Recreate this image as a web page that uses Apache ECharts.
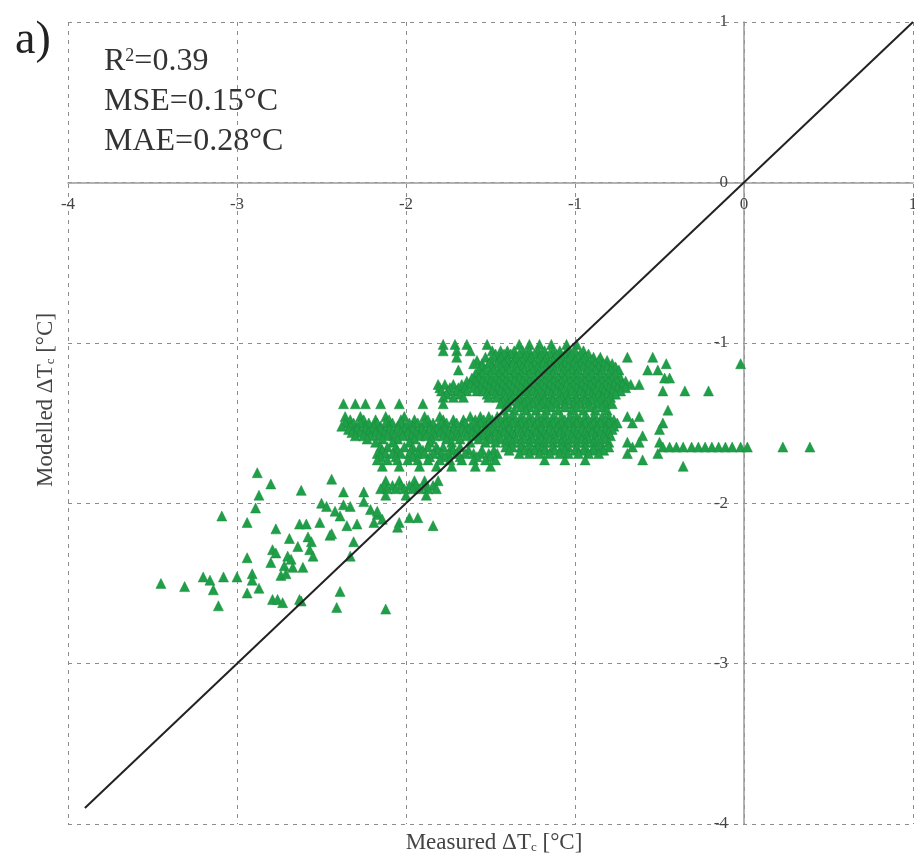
<!DOCTYPE html>
<html>
<head>
<meta charset="utf-8">
<script src="https://cdn.jsdelivr.net/npm/echarts@6/dist/echarts.min.js"></script>
<style>
  html, body { margin: 0; padding: 0; background: #fff; }
  #chart { width: 915px; height: 861px; }
</style>
</head>
<body>
<div id="chart"></div>
<script>
// axis ticks
const xTicks = [-4, -3, -2, -1, 0, 1];
const yTicks = [-4, -3, -2, -1, 0, 1];

// 1:1 reference line
const diagX = [-3.9, 1];
const diagY = [-3.9, 1];

// dense clusters, read row by row (modelled value of the row, measured values along it)
const rowY = [-1.01, -1.05, -1.07, -1.09, -1.11, -1.13, -1.15, -1.17, -1.195, -1.22, -1.24, -1.26, -1.28,
              -1.30, -1.32, -1.34, -1.36, -1.38, -1.40, -1.42,
              -1.46, -1.48, -1.50, -1.52, -1.54, -1.56, -1.58, -1.60, -1.62, -1.65, -1.67, -1.69, -1.71,
              -1.73, -1.77, -1.86, -1.89, -1.91, -1.95];
const rowX = [
  [-1.78, -1.71, -1.64, -1.52, -1.33, -1.27, -1.21, -1.14, -1.05, -0.99],
  [-1.78, -1.70, -1.62, -1.49, -1.44, -1.40, -1.36, -1.31, -1.27, -1.22, -1.18, -1.13, -1.09, -1.04, -1.00, -0.95],
  [-1.47, -1.42, -1.38, -1.33, -1.29, -1.24, -1.20, -1.15, -1.11, -1.06, -1.02, -0.97, -0.92],
  [-1.70, -1.53, -1.48, -1.44, -1.40, -1.35, -1.30, -1.26, -1.21, -1.17, -1.12, -1.08, -1.03, -0.98, -0.94, -0.89, -0.85, -0.69, -0.54],
  [-1.58, -1.50, -1.45, -1.40, -1.36, -1.31, -1.27, -1.22, -1.18, -1.13, -1.09, -1.04, -1.00, -0.95, -0.90, -0.86, -0.81],
  [-1.60, -1.55, -1.51, -1.46, -1.42, -1.37, -1.33, -1.28, -1.24, -1.19, -1.15, -1.11, -1.06, -1.01, -0.97, -0.92, -0.88, -0.83, -0.78, -0.46, -0.02],
  [-1.55, -1.49, -1.44, -1.40, -1.35, -1.31, -1.26, -1.22, -1.17, -1.13, -1.08, -1.04, -0.99, -0.95, -0.90, -0.86, -0.81, -0.76],
  [-1.69, -1.57, -1.53, -1.48, -1.43, -1.39, -1.34, -1.30, -1.25, -1.21, -1.16, -1.12, -1.07, -1.02, -0.98, -0.93, -0.88, -0.84, -0.79, -0.74, -0.57, -0.51],
  [-1.59, -1.55, -1.50, -1.45, -1.41, -1.36, -1.32, -1.27, -1.22, -1.18, -1.13, -1.08, -1.04, -0.99, -0.94, -0.90, -0.85, -0.80, -0.76],
  [-1.61, -1.57, -1.52, -1.47, -1.43, -1.38, -1.33, -1.29, -1.24, -1.20, -1.15, -1.10, -1.06, -1.01, -0.96, -0.92, -0.87, -0.82, -0.78, -0.73, -0.47, -0.44],
  [-1.64, -1.59, -1.55, -1.50, -1.45, -1.41, -1.36, -1.31, -1.27, -1.22, -1.18, -1.13, -1.08, -1.03, -0.99, -0.94, -0.89, -0.84, -0.80, -0.75, -0.70],
  [-1.81, -1.77, -1.72, -1.67, -1.62, -1.58, -1.53, -1.48, -1.43, -1.39, -1.34, -1.29, -1.24, -1.20, -1.15, -1.10, -1.05, -1.01, -0.96, -0.91, -0.86, -0.82, -0.77, -0.72, -0.67, -0.62],
  [-1.80, -1.74, -1.69, -1.65, -1.60, -1.56, -1.51, -1.46, -1.41, -1.37, -1.32, -1.27, -1.22, -1.18, -1.13, -1.08, -1.03, -0.99, -0.94, -0.89, -0.84, -0.80, -0.75, -0.70],
  [-1.79, -1.75, -1.70, -1.64, -1.58, -1.54, -1.49, -1.44, -1.40, -1.35, -1.30, -1.25, -1.21, -1.16, -1.11, -1.07, -1.02, -0.97, -0.92, -0.88, -0.83, -0.78, -0.73, -0.48, -0.35, -0.21],
  [-1.76, -1.68, -1.52, -1.47, -1.42, -1.38, -1.33, -1.28, -1.23, -1.19, -1.14, -1.09, -1.05, -1.00, -0.95, -0.90, -0.86, -0.81, -0.76],
  [-1.78, -1.72, -1.66, -1.51, -1.46, -1.41, -1.37, -1.32, -1.27, -1.22, -1.18, -1.13, -1.08, -1.04, -0.99, -0.94, -0.89, -0.84, -0.79],
  [-1.43, -1.38, -1.33, -1.28, -1.23, -1.18, -1.13, -1.09, -1.04, -0.99, -0.94, -0.90, -0.85, -0.80],
  [-2.37, -2.30, -2.24, -2.15, -2.04, -1.90, -1.78, -1.44, -1.40, -1.34, -1.30, -1.25, -1.20, -1.16, -1.11, -1.06, -1.01, -0.97, -0.92, -0.87, -0.82, -0.78],
  [-1.40, -1.32, -1.27, -1.21, -1.14, -1.06, -0.99, -0.91, -0.84],
  [-1.42, -1.36, -1.29, -1.23, -1.17, -1.10, -1.02, -0.95, -0.88, -0.81, -0.45],
  [-2.36, -2.27, -2.12, -2.01, -1.89, -1.80, -1.62, -1.56, -1.51, -1.46, -1.41, -1.37, -1.32, -1.27, -1.22, -1.18, -1.13, -1.08, -1.03, -0.99, -0.94, -0.89, -0.84, -0.80, -0.69, -0.62],
  [-2.33, -2.25, -2.18, -2.10, -2.03, -1.95, -1.87, -1.78, -1.72, -1.66, -1.59, -1.54, -1.49, -1.44, -1.39, -1.35, -1.30, -1.25, -1.20, -1.16, -1.11, -1.06, -1.01, -0.97, -0.92, -0.87, -0.82, -0.77],
  [-2.36, -2.31, -2.27, -2.22, -2.17, -2.12, -2.08, -2.03, -1.98, -1.93, -1.89, -1.84, -1.79, -1.76, -1.70, -1.65, -1.60, -1.56, -1.51, -1.46, -1.41, -1.37, -1.32, -1.27, -1.22, -1.18, -1.13, -1.08, -1.04, -0.99, -0.94, -0.89, -0.85, -0.80, -0.75, -0.66, -0.48],
  [-2.38, -2.33, -2.29, -2.24, -2.19, -2.15, -2.10, -2.05, -2.00, -1.96, -1.91, -1.86, -1.81, -1.77, -1.72, -1.67, -1.62, -1.58, -1.53, -1.48, -1.43, -1.39, -1.34, -1.29, -1.24, -1.20, -1.15, -1.10, -1.06, -1.01, -0.96, -0.91, -0.87, -0.82, -0.77],
  [-2.34, -2.29, -2.24, -2.20, -2.15, -2.10, -2.05, -2.01, -1.96, -1.91, -1.86, -1.82, -1.77, -1.72, -1.67, -1.63, -1.58, -1.53, -1.49, -1.44, -1.39, -1.34, -1.30, -1.25, -1.20, -1.15, -1.11, -1.06, -1.01, -0.96, -0.92, -0.87, -0.82, -0.78, -0.50],
  [-2.32, -2.27, -2.22, -2.18, -2.13, -2.08, -2.03, -1.99, -1.94, -1.89, -1.84, -1.80, -1.75, -1.70, -1.65, -1.61, -1.56, -1.51, -1.47, -1.42, -1.37, -1.32, -1.28, -1.23, -1.18, -1.13, -1.09, -1.04, -0.99, -0.94, -0.90, -0.85, -0.80],
  [-2.30, -2.25, -2.21, -2.16, -2.11, -2.07, -2.02, -1.97, -1.92, -1.88, -1.83, -1.78, -1.73, -1.69, -1.64, -1.59, -1.54, -1.50, -1.45, -1.40, -1.36, -1.31, -1.26, -1.21, -1.17, -1.12, -1.07, -1.02, -0.98, -0.93, -0.88, -0.83, -0.79, -0.60],
  [-2.23, -2.14, -2.05, -1.95, -1.85, -1.76, -1.68, -1.57, -1.50, -1.44, -1.39, -1.35, -1.30, -1.25, -1.20, -1.15, -1.11, -1.06, -1.01, -0.96, -0.92, -0.87, -0.82],
  [-2.18, -2.08, -1.98, -1.86, -1.73, -1.62, -1.53, -1.47, -1.41, -1.37, -1.32, -1.27, -1.22, -1.18, -1.13, -1.08, -1.04, -0.99, -0.94, -0.89, -0.85, -0.80, -0.69, -0.62, -0.50],
  [-2.15, -2.11, -2.06, -2.01, -1.96, -1.92, -1.87, -1.82, -1.78, -1.73, -1.68, -1.41, -1.37, -1.32, -1.27, -1.22, -1.18, -1.13, -1.08, -1.04, -0.99, -0.94, -0.89, -0.85, -0.80, -0.66,
   -0.48, -0.44, -0.40, -0.36, -0.31, -0.27, -0.23, -0.19, -0.15, -0.11, -0.07, -0.02, 0.02, 0.23, 0.39],
  [-2.14, -2.05, -1.97, -1.90, -1.81, -1.72, -1.63, -1.55, -1.48, -1.39, -1.30, -1.24, -1.18, -1.12, -1.06, -1.00, -0.95, -0.89, -0.83],
  [-2.17, -2.12, -2.08, -2.03, -1.98, -1.93, -1.89, -1.84, -1.79, -1.75, -1.70, -1.65, -1.60, -1.56, -1.51, -1.46, -1.33, -1.27, -1.21, -1.15, -1.09, -1.04, -0.98, -0.92, -0.86, -0.69, -0.51],
  [-2.15, -2.06, -1.96, -1.86, -1.77, -1.68, -1.58, -1.50],
  [-2.17, -2.11, -2.05, -1.99, -1.93, -1.87, -1.80, -1.74, -1.67, -1.60, -1.53, -1.47, -1.18, -1.06, -0.94, -0.60],
  [-2.14, -2.04, -1.92, -1.82, -1.73, -1.59, -1.50, -0.36],
  [-2.12, -2.04, -1.95, -1.89, -1.81],
  [-2.13, -2.08, -2.03, -1.98, -1.94, -1.89, -1.84],
  [-2.15, -2.11, -2.06, -2.01, -1.96, -1.92, -1.87, -1.82],
  [-2.12, -2.00, -1.88]
];

// scattered points in the lower left
const looseX = [-2.88, -2.80, -2.62, -2.44, -2.87, -2.89, -3.09, -2.94, -2.77, -2.63, -2.59, -2.51, -2.50, -2.47,
  -2.37, -2.37, -2.33, -2.25, -2.25, -2.21, -2.17, -2.14, -2.04, -1.98, -1.93, -1.84, -2.39, -2.35, -2.29,
  -2.45, -2.31, -2.33, -2.57, -2.55, -2.69, -2.39, -2.41, -2.12, -2.62, -2.44, -2.58, -2.56, -2.64, -2.79,
  -2.77, -2.70, -2.68, -2.80, -2.94, -2.72, -2.67, -2.61, -2.74, -2.71, -2.91, -2.91, -3.45, -3.31, -3.20,
  -3.16, -3.14, -3.08, -3.00, -2.94, -2.87, -2.79, -2.76, -2.73, -3.11, -2.63, -2.05, -2.42, -2.17, -2.19];
const looseY = [-1.81, -1.88, -1.92, -1.85, -1.95, -2.03, -2.08, -2.12, -2.16, -2.13, -2.13, -2.12, -2.00, -2.02,
  -1.93, -2.01, -2.02, -1.93, -1.99, -2.04, -2.07, -2.10, -2.12, -2.09, -2.09, -2.14, -2.08, -2.14, -2.13,
  -2.20, -2.24, -2.33, -2.29, -2.33, -2.22, -2.55, -2.65, -2.66, -2.61, -2.19, -2.21, -2.24, -2.27, -2.29,
  -2.31, -2.33, -2.35, -2.37, -2.34, -2.39, -2.40, -2.40, -2.45, -2.44, -2.44, -2.48, -2.50, -2.52, -2.46,
  -2.48, -2.54, -2.46, -2.46, -2.56, -2.53, -2.60, -2.60, -2.62, -2.64, -2.60, -2.15, -2.05, -2.05, -2.12];

const points = [];
rowY.forEach((y, i) => rowX[i].forEach(x => points.push([x, y])));
looseX.forEach((x, i) => points.push([x, looseY[i]]));

const serif = '"Liberation Serif", "DejaVu Serif", serif';
const chart = echarts.init(document.getElementById('chart'));

// grid box: 68..913 wide, 22..824 high; axes cross at (0, 0)
const gridLeft = 68, gridTop = 22, gridW = 845, gridH = 802;
const zeroFromLeft = gridW * 4 / 5;   // x = 0 inside the box
const zeroFromBottom = gridH * 4 / 5; // y = 0 inside the box

const axisCommon = {
    type: 'value',
    min: -4,
    max: 1,
    interval: 1,
    axisLine: { onZero: false, lineStyle: { color: '#9a9a9a', width: 1.5 } },
    axisTick: { show: false },
    splitLine: { show: true, lineStyle: { color: '#8c8c8c', type: [4, 5], width: 1 } }
};

const option = {
    animation: false,
    backgroundColor: '#ffffff',
    grid: { left: gridLeft, top: gridTop, width: gridW, height: gridH, outerBoundsMode: 'none', containLabel: false },
    xAxis: Object.assign({}, axisCommon, {
        position: 'bottom',
        offset: -zeroFromBottom,
        axisLabel: {
            fontFamily: serif, fontSize: 17, color: '#444', margin: 14,
            formatter: v => xTicks.includes(v) ? String(v) : ''
        }
    }),
    yAxis: Object.assign({}, axisCommon, {
        position: 'left',
        offset: -zeroFromLeft,
        axisLabel: {
            fontFamily: serif, fontSize: 17, color: '#444', margin: 16,
            formatter: v => yTicks.includes(v) ? String(v) : ''
        }
    }),
    series: [
        {
            type: 'scatter',
            data: points,
            symbol: 'triangle',
            symbolSize: 10,
            itemStyle: { color: '#1f9f48', borderColor: '#198a3c', borderWidth: 0.5, opacity: 1 },
            z: 2
        },
        {
            type: 'line',
            data: diagX.map((x, i) => [x, diagY[i]]),
            symbol: 'none',
            lineStyle: { color: '#222', width: 2 },
            z: 3
        }
    ],
    graphic: [
        {
            type: 'text', left: 15, top: 18,
            style: { text: 'a)', font: '46px ' + serif, fill: '#222' }
        },
        {
            type: 'text', left: 104, top: 42,
            style: {
                text: 'R{s|2}=0.39\nMSE=0.15°C\nMAE=0.28°C',
                font: '32px ' + serif, fill: '#333', lineHeight: 40,
                rich: { s: { fontSize: 18, fontFamily: serif, fill: '#333', padding: [0, 0, 12, 0] } }
            }
        },
        {
            type: 'text', x: 494, y: 843,
            style: {
                text: 'Measured ΔT{s|c} [°C]',
                font: '23px ' + serif, fill: '#444',
                align: 'center', verticalAlign: 'middle',
                rich: { s: { fontSize: 13, fontFamily: serif, fill: '#444', padding: [10, 0, 0, 0] } }
            }
        },
        {
            type: 'text', x: 46, y: 400, rotation: Math.PI / 2,
            style: {
                text: 'Modelled ΔT{s|c} [°C]',
                font: '23px ' + serif, fill: '#444',
                align: 'center', verticalAlign: 'middle',
                rich: { s: { fontSize: 13, fontFamily: serif, fill: '#444', padding: [10, 0, 0, 0] } }
            }
        }
    ]
};

chart.setOption(option);
</script>
</body>
</html>
